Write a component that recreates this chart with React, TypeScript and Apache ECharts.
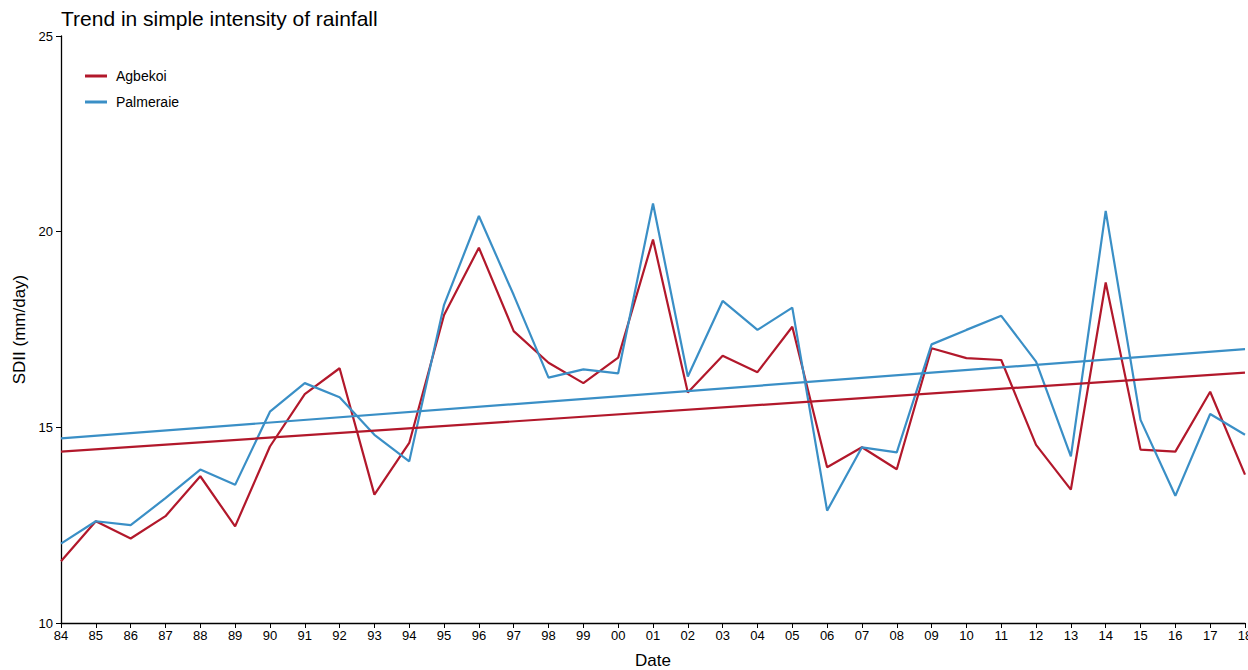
import React, { useEffect, useRef } from "react";
import * as echarts from "echarts";

const years = ["84","85","86","87","88","89","90","91","92","93","94","95","96","97","98","99","00","01","02","03","04","05","06","07","08","09","10","11","12","13","14","15","16","17","18"];
const agbekoi = [11.58,12.60,12.16,12.73,13.75,12.47,14.51,15.85,16.51,13.28,14.60,17.87,19.59,17.46,16.65,16.13,16.78,19.80,15.89,16.83,16.41,17.57,13.98,14.49,13.93,17.02,16.77,16.72,14.55,13.41,18.70,14.43,14.38,15.91,13.79];
const palmeraie = [12.03,12.60,12.50,13.19,13.92,13.53,15.40,16.13,15.77,14.81,14.13,18.13,20.40,18.38,16.27,16.48,16.38,20.72,16.30,18.23,17.49,18.06,12.87,14.49,14.36,17.12,17.49,17.85,16.68,14.26,20.53,15.19,13.25,15.34,14.81];
const agbekoiTrend = [14.38, 16.40];
const palmeraieTrend = [14.72, 17.00];
const yTicks = [10, 25, 5];

const RED = "#b2182b";
const BLUE = "#3a8fc6";

export default function App() {
  const ref = useRef<HTMLDivElement>(null);
  useEffect(() => {
    const chart = echarts.init(ref.current!, null, { renderer: "svg" });
    const last = years.length - 1;
    chart.setOption({
      animation: false,
      backgroundColor: "#ffffff",
      textStyle: { fontFamily: "Liberation Sans, Arial, sans-serif" },
      title: {
        text: "Trend in simple intensity of rainfall",
        left: 56,
        top: 3,
        textStyle: { fontSize: 21, fontWeight: "normal", color: "#000" },
      },
      legend: {
        data: ["Agbekoi", "Palmeraie"],
        orient: "vertical",
        left: 80,
        top: 64,
        itemWidth: 22,
        itemHeight: 3,
        itemGap: 12,
        icon: "rect",
        textStyle: { fontSize: 14, color: "#000", padding: [0, 0, 0, 4] },
      },
      grid: { left: 61, right: 3, top: 36, bottom: 47, containLabel: false, outerBoundsMode: "none" },
      xAxis: {
        type: "category",
        data: years,
        boundaryGap: false,
        name: "Date",
        nameLocation: "middle",
        nameGap: 29,
        nameTextStyle: { fontSize: 17, color: "#000" },
        axisLine: { lineStyle: { color: "#000", width: 1.3 } },
        axisTick: { show: true, length: 5, lineStyle: { color: "#000" } },
        axisLabel: { color: "#000", fontSize: 13, margin: 6, interval: 0, hideOverlap: false },
        splitLine: { show: false },
      },
      yAxis: {
        type: "value",
        min: yTicks[0],
        max: yTicks[1],
        interval: yTicks[2],
        name: "SDII (mm/day)",
        nameLocation: "middle",
        nameGap: 33,
        nameTextStyle: { fontSize: 17, color: "#000" },
        axisLine: { show: true, lineStyle: { color: "#000", width: 1.3 } },
        axisTick: { show: true, length: 5, lineStyle: { color: "#000" } },
        axisLabel: { color: "#000", fontSize: 13, margin: 8 },
        splitLine: { show: false },
      },
      series: [
        {
          name: "Agbekoi",
          type: "line",
          data: agbekoi,
          symbol: "none",
          lineStyle: { color: RED, width: 2.2 },
          itemStyle: { color: RED },
        },
        {
          name: "Palmeraie",
          type: "line",
          data: palmeraie,
          symbol: "none",
          lineStyle: { color: BLUE, width: 2.2 },
          itemStyle: { color: BLUE },
        },
        {
          name: "Agbekoi trend",
          type: "line",
          data: [[0, agbekoiTrend[0]], [last, agbekoiTrend[1]]],
          symbol: "none",
          lineStyle: { color: RED, width: 2.2 },
        },
        {
          name: "Palmeraie trend",
          type: "line",
          data: [[0, palmeraieTrend[0]], [last, palmeraieTrend[1]]],
          symbol: "none",
          lineStyle: { color: BLUE, width: 2.2 },
        },
      ],
    });
    return () => chart.dispose();
  }, []);
  return <div ref={ref} style={{ width: 1248, height: 670, position: "absolute", left: 0, top: 0 }} />;
}
